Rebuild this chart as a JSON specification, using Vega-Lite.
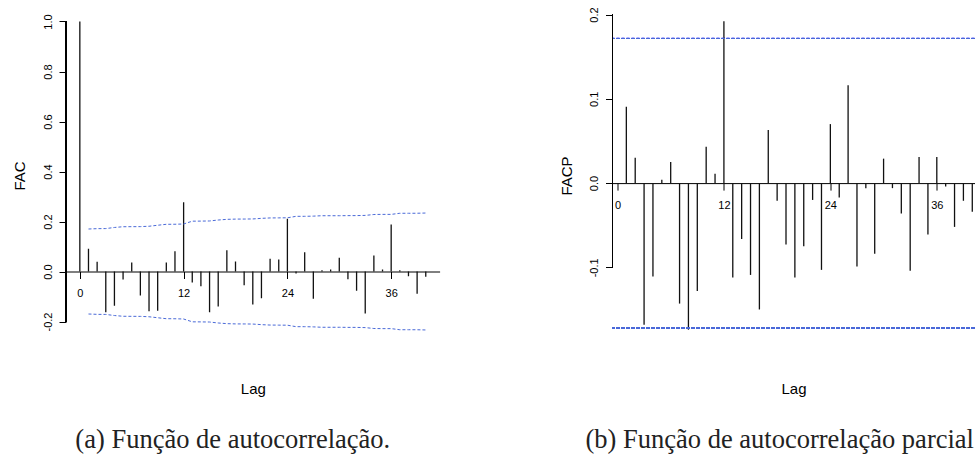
{
  "$schema": "https://vega.github.io/schema/vega-lite/v6.json",
  "padding": {"left": 12, "top": 6, "right": 0, "bottom": 0},
  "bounds": "flush",
  "spacing": 172.5,
  "config": {
    "view": {"stroke": null},
    "font": "Liberation Sans",
    "axis": {
      "grid": false,
      "labelFont": "Liberation Sans",
      "labelFontSize": 11,
      "labelColor": "#000",
      "titleFont": "Liberation Sans",
      "titleFontSize": 15,
      "titleFontWeight": "normal",
      "titleColor": "#000",
      "tickColor": "#000",
      "tickSize": 7,
      "tickWidth": 1,
      "domainColor": "#000",
      "domainWidth": 1,
      "labelFlush": false,
      "labelOverlap": false,
      "labelBound": false
    }
  },
  "datasets": {
    "acf": [
      {"lag": 0, "acf": 1.0, "hi": null, "lo": null},
      {"lag": 1, "acf": 0.091, "hi": 0.170, "lo": -0.170},
      {"lag": 2, "acf": 0.039, "hi": 0.1714, "lo": -0.1714},
      {"lag": 3, "acf": -0.163, "hi": 0.1717, "lo": -0.1717},
      {"lag": 4, "acf": -0.137, "hi": 0.1761, "lo": -0.1761},
      {"lag": 5, "acf": -0.032, "hi": 0.1791, "lo": -0.1791},
      {"lag": 6, "acf": 0.036, "hi": 0.1793, "lo": -0.1793},
      {"lag": 7, "acf": -0.096, "hi": 0.1795, "lo": -0.1795},
      {"lag": 8, "acf": -0.159, "hi": 0.1810, "lo": -0.1810},
      {"lag": 9, "acf": -0.157, "hi": 0.1850, "lo": -0.1850},
      {"lag": 10, "acf": 0.036, "hi": 0.1888, "lo": -0.1888},
      {"lag": 11, "acf": 0.081, "hi": 0.1890, "lo": -0.1890},
      {"lag": 12, "acf": 0.277, "hi": 0.1900, "lo": -0.1900},
      {"lag": 13, "acf": -0.044, "hi": 0.2013, "lo": -0.2013},
      {"lag": 14, "acf": -0.059, "hi": 0.2016, "lo": -0.2016},
      {"lag": 15, "acf": -0.163, "hi": 0.2021, "lo": -0.2021},
      {"lag": 16, "acf": -0.140, "hi": 0.2059, "lo": -0.2059},
      {"lag": 17, "acf": 0.085, "hi": 0.2086, "lo": -0.2086},
      {"lag": 18, "acf": 0.040, "hi": 0.2096, "lo": -0.2096},
      {"lag": 19, "acf": -0.055, "hi": 0.2098, "lo": -0.2098},
      {"lag": 20, "acf": -0.132, "hi": 0.2102, "lo": -0.2102},
      {"lag": 21, "acf": -0.107, "hi": 0.2126, "lo": -0.2126},
      {"lag": 22, "acf": 0.051, "hi": 0.2142, "lo": -0.2142},
      {"lag": 23, "acf": 0.048, "hi": 0.2145, "lo": -0.2145},
      {"lag": 24, "acf": 0.211, "hi": 0.2148, "lo": -0.2148},
      {"lag": 25, "acf": -0.008, "hi": 0.2207, "lo": -0.2207},
      {"lag": 26, "acf": 0.077, "hi": 0.2207, "lo": -0.2207},
      {"lag": 27, "acf": -0.109, "hi": 0.2215, "lo": -0.2215},
      {"lag": 28, "acf": 0.005, "hi": 0.2231, "lo": -0.2231},
      {"lag": 29, "acf": 0.008, "hi": 0.2231, "lo": -0.2231},
      {"lag": 30, "acf": 0.055, "hi": 0.2231, "lo": -0.2231},
      {"lag": 31, "acf": -0.031, "hi": 0.2235, "lo": -0.2235},
      {"lag": 32, "acf": -0.077, "hi": 0.2236, "lo": -0.2236},
      {"lag": 33, "acf": -0.168, "hi": 0.2244, "lo": -0.2244},
      {"lag": 34, "acf": 0.064, "hi": 0.2280, "lo": -0.2280},
      {"lag": 35, "acf": 0.008, "hi": 0.2285, "lo": -0.2285},
      {"lag": 36, "acf": 0.188, "hi": 0.2285, "lo": -0.2285},
      {"lag": 37, "acf": 0.005, "hi": 0.2329, "lo": -0.2329},
      {"lag": 38, "acf": -0.019, "hi": 0.2329, "lo": -0.2329},
      {"lag": 39, "acf": -0.089, "hi": 0.2330, "lo": -0.2330},
      {"lag": 40, "acf": -0.021, "hi": 0.2339, "lo": -0.2339}
    ],
    "pacf": [
      {"lag": 1, "pacf": 0.0905},
      {"lag": 2, "pacf": 0.030},
      {"lag": 3, "pacf": -0.168},
      {"lag": 4, "pacf": -0.111},
      {"lag": 5, "pacf": 0.004},
      {"lag": 6, "pacf": 0.025},
      {"lag": 7, "pacf": -0.143},
      {"lag": 8, "pacf": -0.174},
      {"lag": 9, "pacf": -0.128},
      {"lag": 10, "pacf": 0.043},
      {"lag": 11, "pacf": 0.011},
      {"lag": 12, "pacf": 0.192},
      {"lag": 13, "pacf": -0.112},
      {"lag": 14, "pacf": -0.0665},
      {"lag": 15, "pacf": -0.109},
      {"lag": 16, "pacf": -0.150},
      {"lag": 17, "pacf": 0.063},
      {"lag": 18, "pacf": -0.021},
      {"lag": 19, "pacf": -0.073},
      {"lag": 20, "pacf": -0.112},
      {"lag": 21, "pacf": -0.075},
      {"lag": 22, "pacf": -0.020},
      {"lag": 23, "pacf": -0.103},
      {"lag": 24, "pacf": 0.070},
      {"lag": 25, "pacf": -0.017},
      {"lag": 26, "pacf": 0.116},
      {"lag": 27, "pacf": -0.099},
      {"lag": 28, "pacf": -0.006},
      {"lag": 29, "pacf": -0.084},
      {"lag": 30, "pacf": 0.029},
      {"lag": 31, "pacf": -0.006},
      {"lag": 32, "pacf": -0.036},
      {"lag": 33, "pacf": -0.104},
      {"lag": 34, "pacf": 0.031},
      {"lag": 35, "pacf": -0.061},
      {"lag": 36, "pacf": 0.031},
      {"lag": 37, "pacf": -0.004},
      {"lag": 38, "pacf": -0.052},
      {"lag": 39, "pacf": -0.021},
      {"lag": 40, "pacf": -0.034}
    ]
  },
  "hconcat": [
    {
      "width": 373.6,
      "height": 333,
      "data": {"name": "acf"},
      "title": {
        "text": "(a) Função de autocorrelação.",
        "orient": "bottom",
        "frame": "group",
        "anchor": "middle",
        "dx": -20,
        "offset": 31,
        "font": "Liberation Serif",
        "fontSize": 26.5,
        "fontWeight": "normal",
        "color": "#222"
      },
      "layer": [
        {
          "mark": {"type": "rule", "color": "#111", "strokeWidth": 1.3},
          "encoding": {
            "x": {
              "field": "lag",
              "type": "quantitative",
              "scale": {"domain": [-1.6, 41.6], "nice": false, "zero": false},
              "axis": {
                "values": [0, 12, 24, 36],
                "offset": -70.5,
                "title": "Lag",
                "titlePadding": 82.7,
                "labelPadding": 9
              }
            },
            "y": {
              "field": "acf",
              "type": "quantitative",
              "scale": {"domain": [-0.282, 1.05], "nice": false, "zero": false},
              "axis": {
                "values": [-0.2, 0, 0.2, 0.4, 0.6, 0.8, 1.0],
                "labelExpr": "replace(format(datum.value, '.1f'), '\u2212', '-')",
                "title": "FAC",
                "domain": false,
                "labelAngle": -90,
                "labelAlign": "center",
                "labelBaseline": "bottom",
                "labelPadding": 6,
                "titlePadding": 14.5
              }
            },
            "y2": {"datum": 0}
          }
        },
        {
          "transform": [{"filter": "datum.hi != null"}],
          "mark": {"type": "line", "color": "#4a6ad8", "strokeDash": [3, 2], "strokeWidth": 1},
          "encoding": {
            "x": {"field": "lag", "type": "quantitative"},
            "y": {"field": "hi", "type": "quantitative"}
          }
        },
        {
          "transform": [{"filter": "datum.lo != null"}],
          "mark": {"type": "line", "color": "#4a6ad8", "strokeDash": [3, 2], "strokeWidth": 1},
          "encoding": {
            "x": {"field": "lag", "type": "quantitative"},
            "y": {"field": "lo", "type": "quantitative"}
          }
        },
        {
          "mark": {"type": "rule", "color": "#000", "strokeWidth": 1},
          "encoding": {
            "x": {"datum": -1.6},
            "y": {"datum": -0.2},
            "y2": {"datum": 1.0}
          }
        }
      ]
    },
    {
      "width": 362,
      "height": 333,
      "data": {"name": "pacf"},
      "title": {
        "text": "(b) Função de autocorrelação parcial",
        "orient": "bottom",
        "frame": "group",
        "anchor": "start",
        "dx": -27,
        "offset": 31,
        "font": "Liberation Serif",
        "fontSize": 26.5,
        "fontWeight": "normal",
        "color": "#222"
      },
      "layer": [
        {
          "mark": {"type": "rule", "color": "#111", "strokeWidth": 1.3},
          "encoding": {
            "x": {
              "field": "lag",
              "type": "quantitative",
              "scale": {"domain": [-0.56, 40.25], "nice": false, "zero": false},
              "axis": {
                "values": [0, 12, 24, 36],
                "offset": -158.9,
                "title": "Lag",
                "titlePadding": 171.1,
                "labelPadding": 9
              }
            },
            "y": {
              "field": "pacf",
              "type": "quantitative",
              "scale": {"domain": [-0.1886, 0.2066], "nice": false, "zero": false},
              "axis": {
                "values": [-0.1, 0, 0.1, 0.2],
                "labelExpr": "replace(format(datum.value, '.1f'), '\u2212', '-')",
                "title": "FACP",
                "domain": false,
                "labelAngle": -90,
                "labelAlign": "center",
                "labelBaseline": "bottom",
                "labelPadding": 6,
                "titlePadding": 14.5
              }
            },
            "y2": {"datum": 0}
          }
        },
        {
          "mark": {"type": "rule", "color": "#4a6ad8", "strokeDash": [3, 2], "strokeWidth": 1},
          "encoding": {"y": {"datum": 0.1716}}
        },
        {
          "mark": {"type": "rule", "color": "#4a6ad8", "strokeDash": [3, 2], "strokeWidth": 1},
          "encoding": {"y": {"datum": -0.1716}}
        },
        {
          "mark": {"type": "rule", "color": "#000", "strokeWidth": 1},
          "encoding": {
            "x": {"datum": -0.56},
            "y": {"datum": -0.1},
            "y2": {"datum": 0.2}
          }
        }
      ]
    }
  ]
}
